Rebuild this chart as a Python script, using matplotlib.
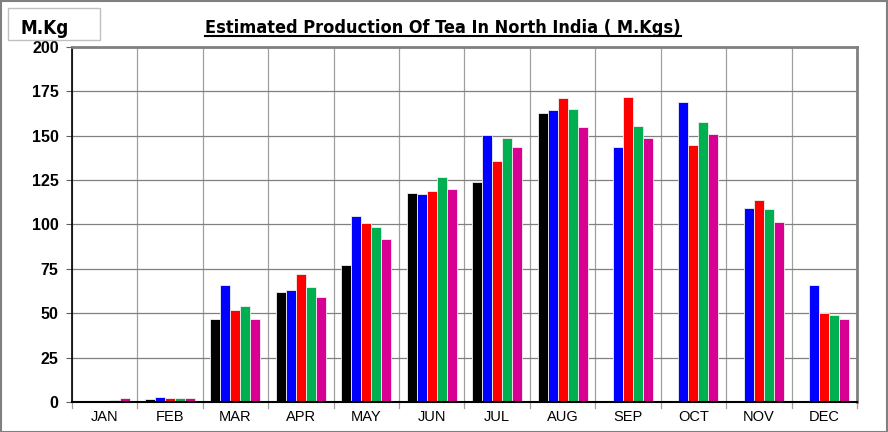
import numpy as np
import matplotlib
matplotlib.use("Agg")
import matplotlib.pyplot as plt
from matplotlib.patches import Rectangle
from matplotlib.lines import Line2D

plt.rcParams['font.family'] = ['Liberation Sans', 'DejaVu Sans']

months = ['JAN', 'FEB', 'MAR', 'APR', 'MAY', 'JUN', 'JUL', 'AUG', 'SEP', 'OCT', 'NOV', 'DEC']
s_black = [0.5, 1.5, 47, 62, 77, 117.5, 124, 163, np.nan, np.nan, np.nan, np.nan]
s_blue = [0, 3, 66, 63, 105, 117, 150.5, 164.5, 143.5, 169, 109, 66]
s_red = [0, 2, 52, 72, 101, 119, 135.5, 171, 172, 144.5, 114, 50]
s_green = [1, 2.5, 54, 65, 98.5, 126.5, 148.5, 165, 155.5, 157.5, 108.5, 49]
s_magenta = [2.5, 2, 46.5, 59, 92, 120, 143.5, 155, 148.5, 151, 101.5, 47]
y_ticks = [0, 25, 50, 75, 100, 125, 150, 175, 200]

series = [s_black, s_blue, s_red, s_green, s_magenta]
colors = ['#000000', '#0000ff', '#ff0000', '#00b050', '#d80093']

fig = plt.figure(figsize=(8.88, 4.32), dpi=100)
ax = fig.add_axes([0.081, 0.0694, 0.884, 0.822])

x = np.arange(len(months))
w = 0.153
for i, (vals, c) in enumerate(zip(series, colors)):
    lw = [0.6 if (v == v and v > 0) else 0 for v in vals]
    ax.bar(x + (i - 2) * w, vals, width=w, color=c, edgecolor='#f0f0f0', linewidth=lw, zorder=3)

ax.set_xlim(-0.5, len(months) - 0.5)
ax.set_ylim(0, 200)
ax.set_yticks(y_ticks)
ax.set_yticklabels([str(t) for t in y_ticks], fontweight='bold', fontsize=11.5)
ax.set_xticks(x)
ax.set_xticklabels(months, fontsize=10.5)
ax.tick_params(axis='x', length=0, pad=6)
ax.tick_params(axis='y', length=4.5, width=0.8, direction='out', pad=5, color='#606060')

# category boundaries
for b in np.arange(-0.5, len(months) + 0.5, 1):
    ax.axvline(b, color='#a0a0a0', linewidth=0.9, zorder=1)
    ax.plot([b, b], [0, -0.016], transform=ax.get_xaxis_transform(),
            color='#a0a0a0', linewidth=0.9, clip_on=False)
ax.yaxis.grid(True, color='#808080', linewidth=0.9, zorder=1)

for side in ['top', 'right']:
    ax.spines[side].set_color('#808080')
    ax.spines[side].set_linewidth(2)
ax.spines['left'].set_color('black')
ax.spines['left'].set_linewidth(1.2)
ax.spines['bottom'].set_color('black')
ax.spines['bottom'].set_linewidth(1.5)
ax.spines['bottom'].set_zorder(4)

# outer frame
fig.patches.append(Rectangle((0.001, 0.001), 0.998, 0.997, transform=fig.transFigure,
                             fill=False, edgecolor='#808080', linewidth=1.5))

# unit box
fig.patches.append(Rectangle((8 / 888, 1 - 40 / 432), 92 / 888, 32 / 432, transform=fig.transFigure,
                             fill=False, edgecolor='#c0c0c0', linewidth=1))
fig.text(20 / 888, 1 - 29 / 432, 'M.Kg', fontsize=13.5, fontweight='bold', va='center', ha='left',
         family=['DejaVu Sans'], fontstretch='condensed')

title = fig.text(443 / 888, 1 - 28 / 432, 'Estimated Production Of Tea In North India ( M.Kgs)',
                 fontsize=13, fontweight='bold', ha='center', va='center',
                 family=['DejaVu Sans'], fontstretch='condensed')
fig.canvas.draw()
bb = title.get_window_extent().transformed(fig.transFigure.inverted())
fig.lines.append(Line2D([bb.x0, bb.x1], [bb.y0 + 0.002, bb.y0 + 0.002], transform=fig.transFigure,
                        color='black', linewidth=1.5))

fig.savefig("out.png", dpi=100)
